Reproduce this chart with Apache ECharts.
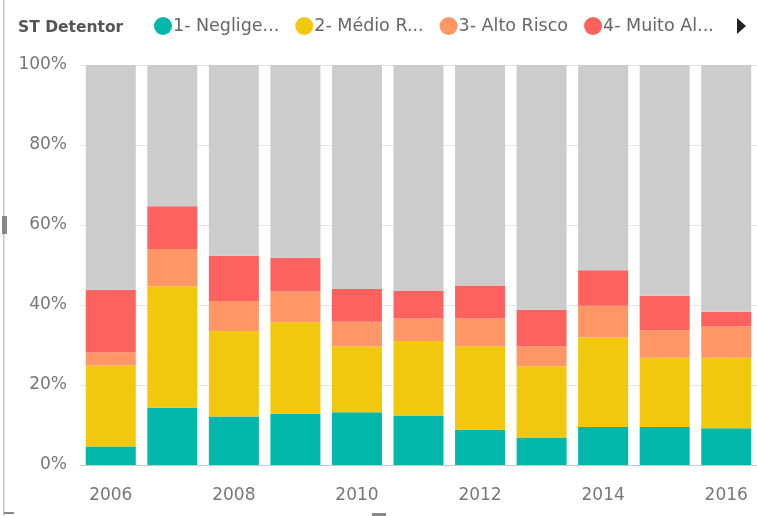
<!DOCTYPE html>
<html>
<head>
<meta charset="utf-8">
<script src="https://cdn.jsdelivr.net/npm/echarts@6/dist/echarts.min.js"></script>
<style>
  html, body { margin: 0; padding: 0; background: #fff; }
  #chart { width: 757px; height: 516px; }
</style>
</head>
<body>
<div id="chart"></div>
<script>
// anos
var years = ["2006", "2007", "2008", "2009", "2010", "2011", "2012", "2013", "2014", "2015", "2016"];

// percentuais por faixa de risco
var negligenciavel = [4.6, 14.3, 12.1, 12.8, 13.2, 12.4, 8.8, 6.9, 9.5, 9.5, 9.2];
var medioRisco     = [20.3, 30.4, 21.4, 22.9, 16.4, 18.6, 20.9, 17.8, 22.4, 17.3, 17.6];
var altoRisco      = [3.2, 9.3, 7.5, 7.7, 6.2, 5.6, 6.9, 5.0, 7.9, 6.9, 7.8];
var muitoAlto      = [15.7, 10.7, 11.3, 8.4, 8.2, 6.9, 8.3, 9.1, 8.9, 8.6, 3.7];
var outros         = [56.2, 35.3, 47.7, 48.2, 56.0, 56.5, 55.1, 61.2, 51.3, 57.7, 61.7];

var seriesNames = ["1- Negligenciável", "2- Médio Risco", "3- Alto Risco", "4- Muito Alto Risco", "5- Sem Risco"];
var legendLabels = ["1- Neglige...", "2- Médio R...", "3- Alto Risco", "4- Muito Al..."];
var colors = ["#01B8AA", "#F2C80F", "#FE9666", "#FD625E", "#CCCCCC"];

var chart = echarts.init(document.getElementById("chart"));

function barSerie(i, data) {
  return {
    name: seriesNames[i],
    type: "bar",
    stack: "total",
    barWidth: 50,
    data: data,
    itemStyle: { color: colors[i] }
  };
}

var option = {
  animation: false,
  textStyle: { fontFamily: "DejaVu Sans" },
  title: {
    text: "ST Detentor",
    left: 13,
    top: 15,
    textStyle: { fontSize: 15.5, fontWeight: "bold", color: "#555", fontFamily: "DejaVu Sans" }
  },
  legend: {
    data: seriesNames.slice(0, 4),
    left: 149,
    top: 12,
    icon: "circle",
    itemWidth: 18,
    itemHeight: 18,
    itemGap: 16,
    formatter: function (name) {
      return legendLabels[seriesNames.indexOf(name)];
    },
    textStyle: { fontSize: 17.5, color: "#666", padding: [0, 0, 0, -4] }
  },
  graphic: [
    { type: "polygon", shape: { points: [[737, 18], [737, 34], [746, 26]] }, style: { fill: "#222" } },
    { type: "rect", shape: { x: 3, y: 0, width: 1.5, height: 516 }, style: { fill: "#c8c8c8" } },
    { type: "rect", shape: { x: 2, y: 216, width: 5, height: 18 }, style: { fill: "#888" } },
    { type: "rect", shape: { x: 4, y: 512, width: 10, height: 2 }, style: { fill: "#888" } },
    { type: "rect", shape: { x: 372, y: 513, width: 14, height: 3 }, style: { fill: "#888" } }
  ],
  grid: { left: 80, right: 0, top: 65, bottom: 51 },
  xAxis: {
    type: "category",
    data: years,
    axisTick: { show: false },
    axisLine: { lineStyle: { color: "#c8c8c8", width: 1 } },
    axisLabel: { interval: 1, color: "#777", fontSize: 17, margin: 22 }
  },
  yAxis: {
    type: "value",
    min: 0,
    max: 100,
    interval: 20,
    axisLabel: { formatter: "{value}%", color: "#777", fontSize: 17, margin: 13 },
    splitLine: { lineStyle: { color: "#e6e6e6" } },
    axisLine: { show: false },
    axisTick: { show: false }
  },
  series: [
    barSerie(0, negligenciavel),
    barSerie(1, medioRisco),
    barSerie(2, altoRisco),
    barSerie(3, muitoAlto),
    barSerie(4, outros)
  ]
};

chart.setOption(option);
</script>
</body>
</html>
